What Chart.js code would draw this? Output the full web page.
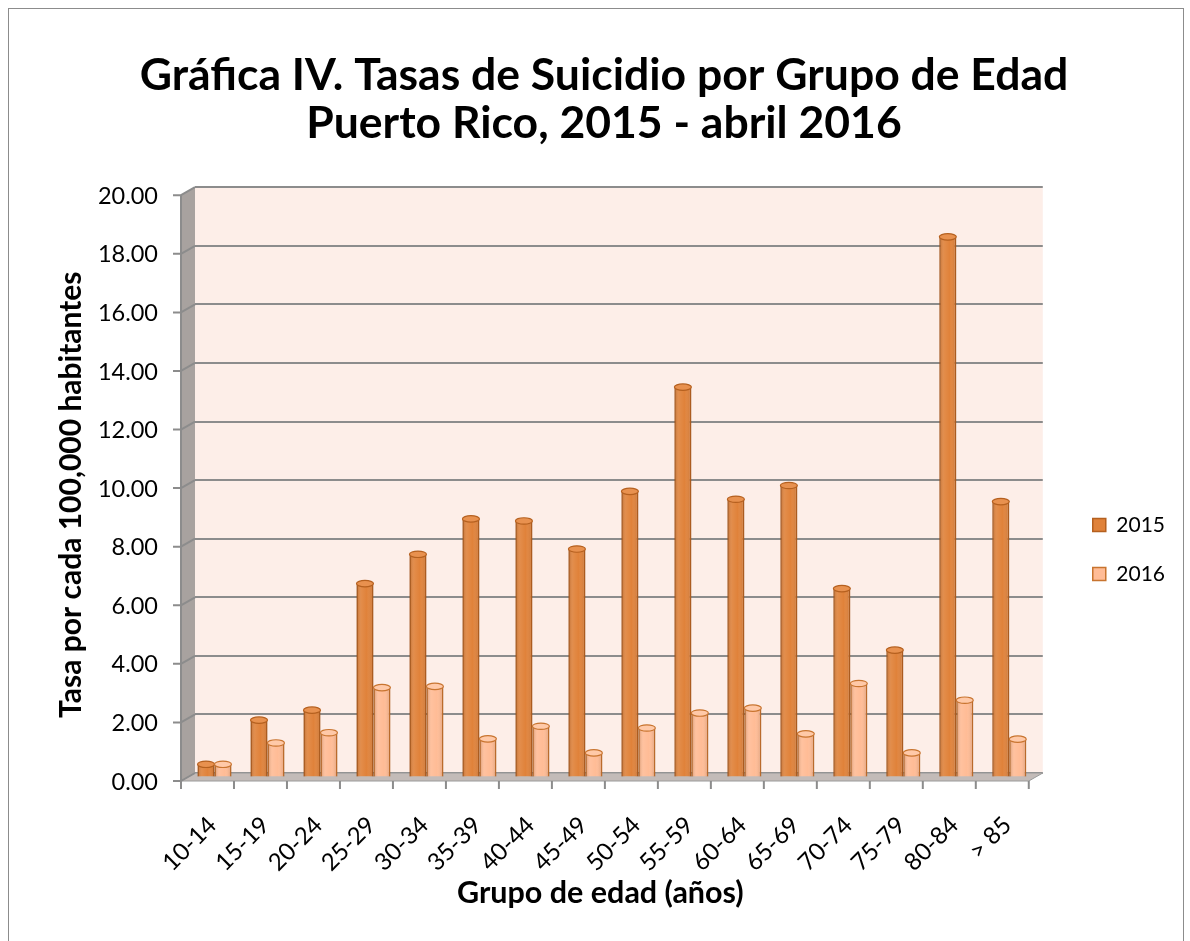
<!DOCTYPE html>
<html>
<head>
<meta charset="utf-8">
<script src="https://cdn.jsdelivr.net/npm/chart.js@4.4.1/dist/chart.umd.min.js"></script>
<style>
    html, body { margin: 0; padding: 0; background: #fff; }
    #wrap { position: relative; width: 1190px; height: 941px; }
    #frame { position: absolute; left: 8px; top: 8px; width: 1174px; height: 945px; border: 1px solid #8c8c8c; pointer-events: none; }
</style>
</head>
<body>
<div id="wrap">
    <canvas id="suicideChart" width="1190" height="941"></canvas>
    <div id="frame"></div>
</div>
<script>
// Tasas de suicidio por grupo de edad

const ageGroups = ['10-14', '15-19', '20-24', '25-29', '30-34', '35-39', '40-44', '45-49',
    '50-54', '55-59', '60-64', '65-69', '70-74', '75-79', '80-84', '> 85'];
const rates2015 = [0.45, 1.96, 2.3, 6.62, 7.62, 8.83, 8.76, 7.8, 9.77, 13.33, 9.5, 9.97, 6.45, 4.35, 18.46, 9.42];
const rates2016 = [0.45, 1.18, 1.53, 3.07, 3.11, 1.32, 1.75, 0.84, 1.69, 2.2, 2.37, 1.49, 3.21, 0.84, 2.64, 1.31];
const seriesNames = ['2015', '2016'];
const titleLines = ['Gráfica IV. Tasas de Suicidio por Grupo de Edad', 'Puerto Rico, 2015 - abril 2016'];

const FONT = 'Lato, "Open Sans", sans-serif';
const DEPTH_X = 14;
const DEPTH_Y = 8;

// Draws the fake 3D walls, floor and front axis like the Excel original
const wallPlugin = {
    id: 'wall3d',
    beforeDraw(chart) {
        const { ctx, chartArea: a } = chart;
        ctx.save();
        // back wall
        ctx.fillStyle = '#fdeee8';
        ctx.fillRect(a.left, a.top, a.right - a.left, a.bottom - a.top);
        // left wall
        ctx.fillStyle = '#a8a29f';
        ctx.beginPath();
        ctx.moveTo(a.left - DEPTH_X, a.top + DEPTH_Y);
        ctx.lineTo(a.left, a.top);
        ctx.lineTo(a.left, a.bottom);
        ctx.lineTo(a.left - DEPTH_X, a.bottom + DEPTH_Y);
        ctx.closePath();
        ctx.fill();
        ctx.restore();
    },
    beforeDatasetsDraw(chart) {
        const { ctx, chartArea: a, scales } = chart;
        ctx.save();
        // floor
        ctx.fillStyle = '#c3bbb8';
        ctx.strokeStyle = '#9a9a9a';
        ctx.lineWidth = 1;
        ctx.beginPath();
        ctx.moveTo(a.left - DEPTH_X, a.bottom + DEPTH_Y);
        ctx.lineTo(a.left, a.bottom);
        ctx.lineTo(a.right, a.bottom);
        ctx.lineTo(a.right - DEPTH_X, a.bottom + DEPTH_Y);
        ctx.closePath();
        ctx.fill();
        ctx.stroke();

        // front y axis with tick marks
        const y = scales.y;
        ctx.strokeStyle = '#8c8c8c';
        ctx.lineWidth = 2;
        ctx.beginPath();
        ctx.moveTo(a.left - DEPTH_X, y.getPixelForValue(y.max) + DEPTH_Y);
        ctx.lineTo(a.left - DEPTH_X, y.getPixelForValue(0) + DEPTH_Y);
        y.ticks.forEach(t => {
            const py = y.getPixelForValue(t.value) + DEPTH_Y;
            ctx.moveTo(a.left - DEPTH_X - 8, py);
            ctx.lineTo(a.left - DEPTH_X, py);
            // short diagonal across the side wall
            ctx.moveTo(a.left - DEPTH_X, py);
            ctx.lineTo(a.left, py - DEPTH_Y);
        });
        ctx.stroke();

        // front x axis tick marks at category boundaries
        const x = scales.x;
        const step = (a.right - a.left) / ageGroups.length;
        ctx.beginPath();
        for (let i = 0; i <= ageGroups.length; i++) {
            const px = x.getPixelForValue(0) - step / 2 + i * step - DEPTH_X;
            ctx.moveTo(px, a.bottom + DEPTH_Y);
            ctx.lineTo(px, a.bottom + DEPTH_Y + 8);
        }
        ctx.stroke();
        ctx.restore();

        // bars stand in the middle of the floor depth
        ctx.save();
        ctx.translate(-DEPTH_X / 2, DEPTH_Y / 2 + 0.5);
    },
    afterDatasetsDraw(chart) {
        const { ctx } = chart;
        const capFill = ['#e8914f', '#ffc9a8'];
        const capLine = ['#b5601f', '#c8742f'];
        chart.data.datasets.forEach((ds, di) => {
            chart.getDatasetMeta(di).data.forEach(bar => {
                const w = bar.width;
                const left = bar.x - w / 2;
                // cylinder shading
                const g = ctx.createLinearGradient(left, 0, left + w, 0);
                g.addColorStop(0, 'rgba(120,50,0,0.35)');
                g.addColorStop(0.3, 'rgba(255,255,255,0.08)');
                g.addColorStop(0.6, 'rgba(255,255,255,0)');
                g.addColorStop(1, 'rgba(120,50,0,0.25)');
                ctx.fillStyle = g;
                ctx.fillRect(left, bar.y, w, bar.base - bar.y);
                // top cap
                ctx.beginPath();
                ctx.ellipse(bar.x, bar.y, w / 2, 3.2, 0, 0, Math.PI * 2);
                ctx.fillStyle = capFill[di];
                ctx.fill();
                ctx.strokeStyle = capLine[di];
                ctx.lineWidth = 1.2;
                ctx.stroke();
            });
        });
        // undo the translation from beforeDatasetsDraw
        ctx.restore();
    }
};

const ctx = document.getElementById('suicideChart').getContext('2d');

new Chart(ctx, {
    type: 'bar',
    data: {
        labels: ageGroups,
        datasets: [
            {
                label: seriesNames[0],
                data: rates2015,
                backgroundColor: '#e0823a',
                borderColor: '#b5601f',
                borderWidth: 1.5,
                categoryPercentage: 0.64,
                barPercentage: 1.0
            },
            {
                label: seriesNames[1],
                data: rates2016,
                backgroundColor: '#ffbc96',
                borderColor: '#c8742f',
                borderWidth: 1.5,
                categoryPercentage: 0.64,
                barPercentage: 1.0
            }
        ]
    },
    options: {
        responsive: false,
        animation: false,
        layout: {
            padding: { top: 11, left: 33, right: 15, bottom: 26 }
        },
        plugins: {
            title: {
                display: true,
                text: titleLines,
                color: '#000',
                font: { family: FONT, size: 44.5, weight: 'bold', lineHeight: 1.07 },
                padding: { top: 41, bottom: 40 }
            },
            legend: {
                position: 'right',
                title: {
                    // empty title, only used to push the entries down
                    display: true,
                    text: '',
                    font: { family: FONT, size: 20 },
                    padding: { top: 149, bottom: 0 }
                },
                labels: {
                    color: '#000',
                    font: { family: FONT, size: 21 },
                    boxWidth: 13,
                    boxHeight: 13,
                    padding: 28,
                    generateLabels(chart) {
                        return chart.data.datasets.map((ds, i) => ({
                            text: ds.label,
                            fillStyle: ds.backgroundColor,
                            strokeStyle: ds.borderColor,
                            fontColor: '#000',
                            lineWidth: 1.5,
                            datasetIndex: i,
                            hidden: false
                        }));
                    }
                }
            },
            tooltip: { enabled: false }
        },
        scales: {
            x: {
                afterFit: s => { s.height = 142; },
                grid: { display: false },
                border: { display: false },
                ticks: {
                    color: '#000',
                    font: { family: FONT, size: 24 },
                    minRotation: 45,
                    maxRotation: 45,
                    padding: 30,
                    labelOffset: -9
                },
                title: {
                    display: true,
                    // trailing spaces nudge the centred text left, as in the original
                    text: 'Grupo de edad (años)     ',
                    color: '#000',
                    font: { family: FONT, size: 30.5, weight: 'bold' },
                    padding: { top: 0, bottom: 4 }
                }
            },
            y: {
                min: 0,
                max: 20,
                afterFit: s => { s.width = 162; },
                grid: { color: '#8c8c8c', lineWidth: 2, drawTicks: false },
                border: { display: false },
                ticks: {
                    stepSize: 2,
                    color: '#000',
                    font: { family: FONT, size: 23.5 },
                    padding: 37,
                    labelOffset: 9,
                    callback: v => v.toFixed(2)
                },
                title: {
                    display: true,
                    text: 'Tasa por cada 100,000 habitantes    ',
                    color: '#000',
                    font: { family: FONT, size: 30, weight: 'bold' },
                    padding: { top: 20, bottom: 0 }
                }
            },
            // blank spacer between the plot and the legend
            gap: {
                type: 'linear',
                position: 'right',
                display: true,
                afterFit: s => { s.width = 22; },
                grid: { display: false },
                border: { display: false },
                ticks: { display: false },
                title: { display: false }
            }
        }
    },
    plugins: [wallPlugin]
});
</script>
</body>
</html>
